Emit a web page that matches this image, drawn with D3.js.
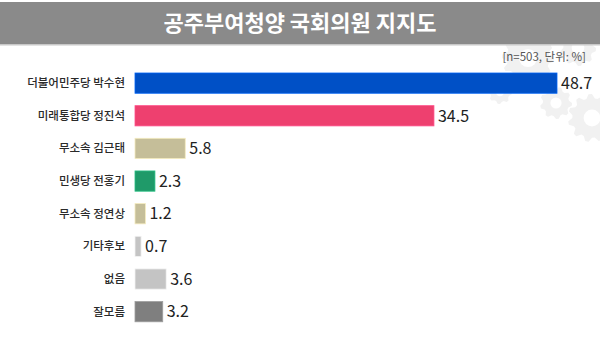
<!DOCTYPE html>
<html>
<head>
<meta charset="utf-8">
<script src="https://cdn.jsdelivr.net/npm/d3@7"></script>
<style>
  body { margin: 0; background: #fff; }
  text { font-family: "Noto Sans CJK KR", "Noto Sans", sans-serif; }
</style>
</head>
<body>
<script>
const width = 600, height = 337;

// data
const names = ["더불어민주당 박수현", "미래통합당 정진석", "무소속 김근태", "민생당 전홍기",
               "무소속 정연상", "기타후보", "없음", "잘모름"];
const values = [48.7, 34.5, 5.8, 2.3, 1.2, 0.7, 3.6, 3.2];
const colors = ["#0050c6", "#ee406f", "#c5be99", "#1f9a69", "#c5be99", "#c4c4c4", "#c4c4c4", "#7f7f7f"];

const svg = d3.select("body").append("svg")
  .attr("width", width)
  .attr("height", height);

// faint gear watermark, top right
const gears = [
  {x: 528, y: 58, r: 26, t: 12},
  {x: 578, y: 48, r: 18, t: 9},
  {x: 556, y: 103, r: 16, t: 9},
  {x: 592, y: 118, r: 24, t: 11},
  {x: 500, y: 92, r: 12, t: 8}
];
const gearPath = (g) => {
  const pts = [];
  const n = g.t * 4;
  for (let i = 0; i < n; i++) {
    const a = (i / n) * Math.PI * 2;
    const rr = (i % 4 < 2) ? g.r : g.r * 0.82;
    pts.push([g.x + rr * Math.cos(a), g.y + rr * Math.sin(a)]);
  }
  return d3.line()(pts) + "Z";
};
const gearG = svg.append("g").attr("opacity", 0.55);
gearG.selectAll("path").data(gears).enter().append("path")
  .attr("d", gearPath)
  .attr("fill", "#e6e6e6");
gearG.selectAll("circle").data(gears).enter().append("circle")
  .attr("cx", d => d.x).attr("cy", d => d.y).attr("r", d => d.r * 0.35)
  .attr("fill", "#fff");

// title bar
svg.append("rect").attr("x", 0).attr("y", 2).attr("width", width).attr("height", 42).attr("fill", "#8a8a8a");
svg.append("rect").attr("x", 0).attr("y", 44).attr("width", width).attr("height", 1.5).attr("fill", "#c8c8c8");
svg.append("text")
  .attr("x", width / 2).attr("y", 31)
  .attr("text-anchor", "middle")
  .attr("fill", "#fff")
  .attr("font-size", 22)
  .attr("font-weight", 700)
  .text("공주부여청양 국회의원 지지도");

svg.append("text")
  .attr("x", 586).attr("y", 61)
  .attr("text-anchor", "end")
  .attr("fill", "#555")
  .attr("font-size", 11.5)
  .text("[n=503, 단위: %]");

const x = d3.scaleLinear().domain([0, 48.7]).range([135, 557]);
const y = d3.scaleBand().domain(names).range([60.6, 334.2]).paddingInner(0.38).paddingOuter(0.38);

svg.selectAll(".bar").data(names).enter().append("rect")
  .attr("class", "bar")
  .attr("x", x(0))
  .attr("y", d => y(d))
  .attr("width", (d, i) => x(values[i]) - x(0))
  .attr("height", y.bandwidth())
  .attr("fill", (d, i) => colors[i])
  .attr("stroke", (d, i) => d3.color(colors[i]).brighter(0.6))
  .attr("stroke-width", 0.8);

svg.selectAll(".cat").data(names).enter().append("text")
  .attr("class", "cat")
  .attr("x", 125)
  .attr("y", d => y(d) + y.bandwidth() / 2)
  .attr("dy", "0.35em")
  .attr("text-anchor", "end")
  .attr("fill", "#2a2a2a")
  .attr("font-size", 11.5)
  .attr("font-weight", 500)
  .text(d => d);

svg.selectAll(".val").data(names).enter().append("text")
  .attr("class", "val")
  .attr("x", (d, i) => x(values[i]) + 4)
  .attr("y", d => y(d) + y.bandwidth() / 2)
  .attr("dy", "0.36em")
  .attr("fill", "#222")
  .attr("font-size", 16)
  .text((d, i) => values[i]);
</script>
</body>
</html>
